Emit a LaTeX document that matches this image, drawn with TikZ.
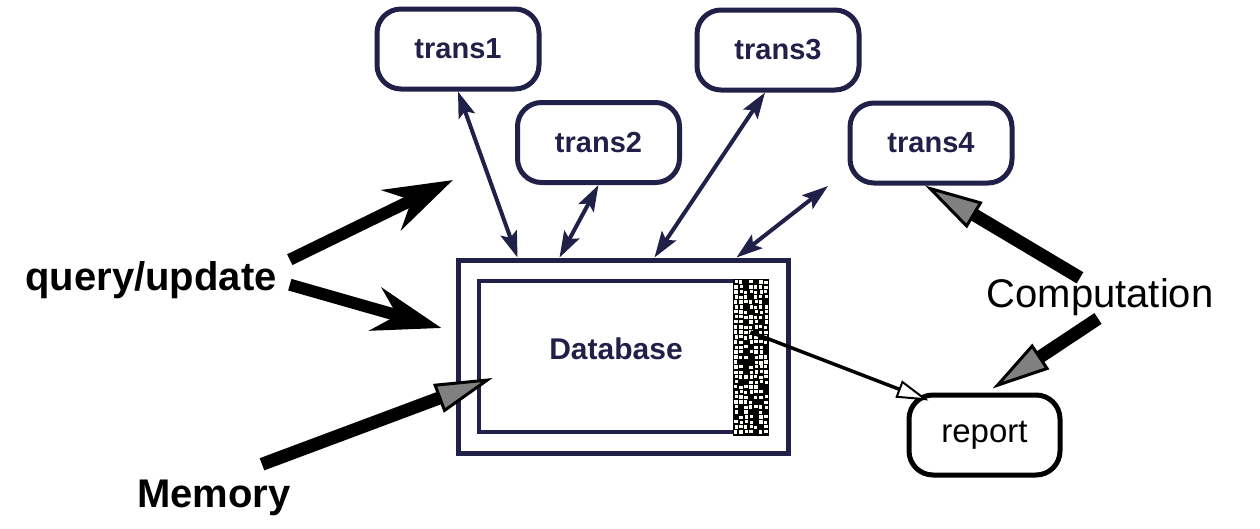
\documentclass[tikz,border=0pt]{standalone}
\usepackage{fontspec}
\setmainfont{Liberation Sans}
\usetikzlibrary{arrows.meta}
\definecolor{navy}{RGB}{32,32,72}
\colorlet{boxcol}{navy}
\colorlet{labelcol}{black}
\colorlet{headcol}{black!50!white}
\tikzset{
  transbox/.style={draw=boxcol, line width=5pt, rounded corners=24pt,
    minimum width=162pt, minimum height=80pt, inner sep=0pt,
    text=boxcol, font=\bfseries\fontsize{29}{34}\selectfont},
  reportbox/.style={transbox, draw=black, text=black, minimum width=151pt,
    font=\fontsize{33}{38}\selectfont},
  dbframe/.style={draw=boxcol, line width=5pt, inner sep=0pt},
  biglabel/.style={text=labelcol, font=\bfseries\fontsize{40}{48}\selectfont, inner sep=0pt},
  linkarrow/.style={draw=boxcol, line width=4pt,
    {Stealth[length=26pt,width=17pt,inset=5pt]}-{Stealth[length=26pt,width=17pt,inset=5pt]}},
  pusharrow/.style={draw=black, line width=12pt,
    -{Stealth[length=68pt,width=44pt,inset=22pt]}},
  feedarrow/.style={draw=black, line width=13pt,
    -{Triangle[length=58pt,width=30pt,fill=headcol,line width=3pt]}},
  outarrow/.style={draw=black, line width=3.5pt,
    -{Triangle[length=32pt,width=18pt,fill=white,line width=2pt]}},
}

\begin{document}
\begin{tikzpicture}[x=1pt, y=-1pt]
  \useasboundingbox (0,0) rectangle (1260,528);

  % Transactions.
  \node[transbox] (trans1) at (458,49) {trans1};
  \node[transbox] (trans2) at (598.5,142.5) {trans2};
  \node[transbox] (trans3) at (778,50) {trans3};
  \node[transbox] (trans4) at (931,143) {trans4};

  % Database frame, inner frame and log strip.
  \node[dbframe, minimum width=330pt, minimum height=193pt] (db) at (623,356.5) {};
  \node[dbframe, line width=4.5pt, minimum width=287pt, minimum height=151pt] (dbin) at (622.5,356.5) {};
  \node[text=boxcol, font=\bfseries\fontsize{30}{36}\selectfont] (dbname) at (616,349) {Database};
  \node[fill=black, inner sep=0pt, minimum width=36pt, minimum height=157pt] (log) at (750.5,357) {};
  \pgfmathsetseed{4}
  \foreach \i in {0,...,6}{
    \foreach \j in {0,...,30}{
      \pgfmathtruncatemacro\stipon{rnd>0.16}
      \ifnum\stipon=1
        \pgfmathsetmacro\dx{rnd*1.4}
        \pgfmathsetmacro\dy{rnd*1.4}
        \fill[white!96!yellow] (733.5+\i*5+\dx,279.5+\j*5+\dy) rectangle ++(3.6,3.6);
      \fi
    }
  }

  % Report.
  \node[reportbox] (report) at (984.5,435) {report};

  % Outside labels.
  \node[biglabel, anchor=base] (query) at (151,290) {query/update};
  \node[biglabel, anchor=base] (memory) at (214,507) {Memory};
  \node[biglabel, anchor=base, font=\fontsize{40}{48}\selectfont] (comp) at (1100,307) {Computation};

  % Transactions <-> database.
  \draw[linkarrow] (trans1.south) -- ([xshift=62pt]db.north west);
  \draw[linkarrow] (trans2.south) -- ([xshift=104pt]db.north west);
  \draw[linkarrow] ([xshift=-13pt]trans3.south) -- ([xshift=199pt]db.north west);
  \coordinate (t4end) at (828,186);
  \draw[linkarrow] (t4end) -- ([xshift=281pt]db.north west);

  % query/update arrows.
  \coordinate (qtip) at (453,180);
  \draw[pusharrow] ([xshift=13pt,yshift=20pt]query.east) -- (qtip);
  \draw[pusharrow] ([xshift=13pt,yshift=-5pt]query.east) -- ([xshift=-14pt,yshift=28.5pt]db.west);

  % Memory and computation arrows.
  \draw[feedarrow] ([xshift=48pt,yshift=15pt]memory.north) -- ([xshift=16pt,yshift=-21.5pt]dbin.west);
  \draw[feedarrow] ([xshift=-20pt]comp.north) -- ([xshift=-6pt]trans4.south);
  \draw[feedarrow] ([xshift=-2pt,yshift=-3pt]comp.south) -- ([xshift=8pt,yshift=4pt]report.north);

  % Log -> report.
  \draw[outarrow] ([yshift=25pt]log.center) -- ([xshift=22pt,yshift=-8pt]report.north west);

\end{tikzpicture}
\end{document}
